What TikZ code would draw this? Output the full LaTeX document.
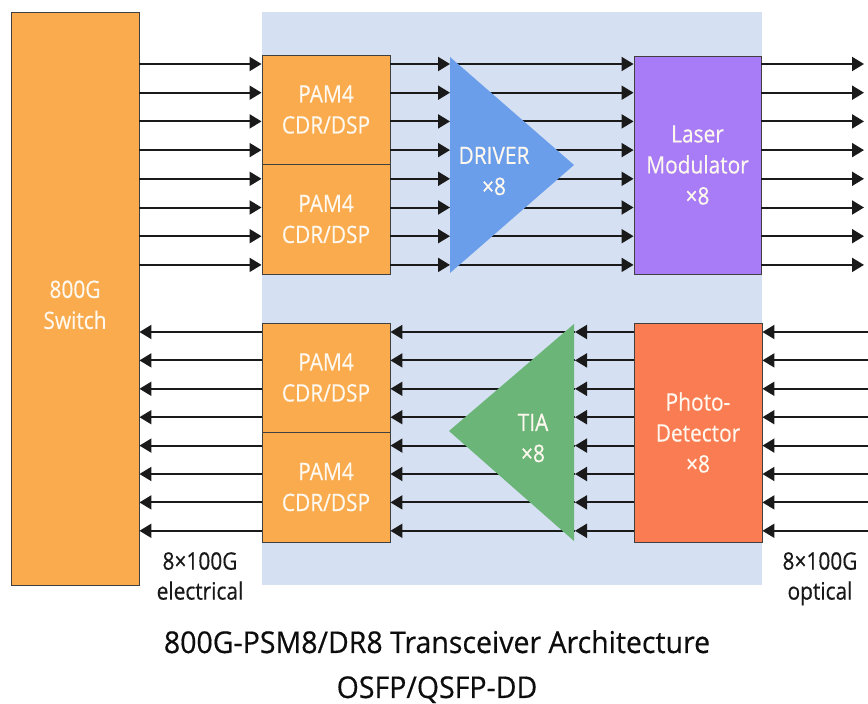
\documentclass[tikz,border=0pt]{standalone}
\usepackage{fontspec}
\setmainfont{Open Sans}[FakeStretch=0.87, FakeBold=0.4]
\newfontfamily\captionfont{Open Sans}[FakeStretch=0.95, FakeBold=0.5]
\usetikzlibrary{arrows.meta}

\definecolor{sworange}{HTML}{F9AB4E}
\definecolor{modbg}{HTML}{D5E0F2}
\definecolor{drvblue}{HTML}{6A9EEA}
\definecolor{modpurple}{HTML}{A87CF6}
\definecolor{tiagreen}{HTML}{6AB577}
\definecolor{pdcoral}{HTML}{FA7C52}
\definecolor{wire}{HTML}{1A1A1A}
\definecolor{boxtext}{HTML}{FFF8EE}

\begin{document}
\begin{tikzpicture}[x=1pt,y=-1pt,
  blk/.style={draw=black!75, line width=0.9pt, inner sep=0pt, text=boxtext,
    align=center, font=\fontsize{24}{31}\selectfont},
  sig/.style={draw=wire, line width=2pt, -{Triangle[length=12pt,width=14pt]}},
  lbl/.style={align=center, inner sep=0pt, text=black!90,
    font=\fontsize{24}{30}\selectfont}]
\useasboundingbox (0,0) rectangle (868,704);

% transceiver module area
\fill[modbg] (262,12) rectangle (762,585);

% blocks
\node[blk, fill=sworange, minimum width=128pt, minimum height=573pt] (sw) at (75,298.5) {\rule{0pt}{30pt}800G\\Switch};
\node[blk, fill=sworange, minimum width=128pt, minimum height=109pt] (pamA) at (326,109.5) {PAM4\\CDR/DSP};
\node[blk, fill=sworange, minimum width=128pt, minimum height=110pt] (pamB) at (326,219) {PAM4\\CDR/DSP};
\node[blk, fill=sworange, minimum width=128pt, minimum height=109pt] (pamC) at (326,377.5) {PAM4\\CDR/DSP};
\node[blk, fill=sworange, minimum width=128pt, minimum height=110pt] (pamD) at (326,487) {PAM4\\CDR/DSP};
\node[blk, fill=modpurple, minimum width=127pt, minimum height=218pt] (mod) at (697.5,165) {Laser\\Modulator\\×8};
\node[blk, fill=pdcoral, minimum width=128pt, minimum height=219pt] (pd) at (698,432.5) {Photo-\\Detector\\×8};

% amplifier reference points and fibre ends
\coordinate (drvL) at (450,165);
\coordinate (tiaR) at (575,432);
\coordinate (optOut) at (864,165);
\coordinate (optIn) at (868,432);

% transmit path: wires running under the driver
\foreach \i in {0,...,7} {
  \pgfmathsetmacro\y{64+28.7*\i}
  \draw[sig] (drvL |- 0,\y) -- (mod.west |- 0,\y);
}
% driver amplifier
\fill[drvblue] (450,57) -- (574,165) -- (450,273) -- cycle;
\node[blk, draw=none] (drv) at (494,171) {DRIVER\\×8};

\foreach \i in {0,...,7} {
  \pgfmathsetmacro\y{64+28.7*\i}
  \ifnum\i<4 \def\pa{pamA}\else\def\pa{pamB}\fi
  \draw[sig] (sw.east |- 0,\y) -- (\pa.west |- 0,\y);
  \draw[sig] (\pa.east |- 0,\y) -- (drvL |- 0,\y);
  \draw[sig] (mod.east |- 0,\y) -- (optOut |- 0,\y);
}

% receive path: wires running under the TIA
\foreach \i in {0,...,7} {
  \pgfmathsetmacro\y{332+28.4*\i}
  \ifnum\i<4 \def\pc{pamC}\else\def\pc{pamD}\fi
  \draw[sig] (tiaR |- 0,\y) -- (\pc.east |- 0,\y);
}
% transimpedance amplifier
\fill[tiagreen] (574,324) -- (449,431) -- (574,541) -- cycle;
\node[blk, draw=none] (tia) at (533,438) {TIA\\×8};

\foreach \i in {0,...,7} {
  \pgfmathsetmacro\y{332+28.4*\i}
  \ifnum\i<4 \def\pc{pamC}\else\def\pc{pamD}\fi
  \draw[sig] (optIn |- 0,\y) -- (pd.east |- 0,\y);
  \draw[sig] (pd.west |- 0,\y) -- (tiaR |- 0,\y);
  \draw[sig] (\pc.west |- 0,\y) -- (sw.east |- 0,\y);
}

% interface labels
\node[lbl, anchor=north] (elec) at (200,552) {8×100G\\electrical};
\node[lbl, anchor=north] (opt) at (820,552) {8×100G\\optical};

% caption
\node[anchor=north, align=center, inner sep=0pt, text=black!95,
  font=\captionfont\fontsize{30}{45}\selectfont] (title) at (437,630)
  {800G-PSM8/DR8 Transceiver Architecture\\OSFP/QSFP-DD};
\end{tikzpicture}
\end{document}
